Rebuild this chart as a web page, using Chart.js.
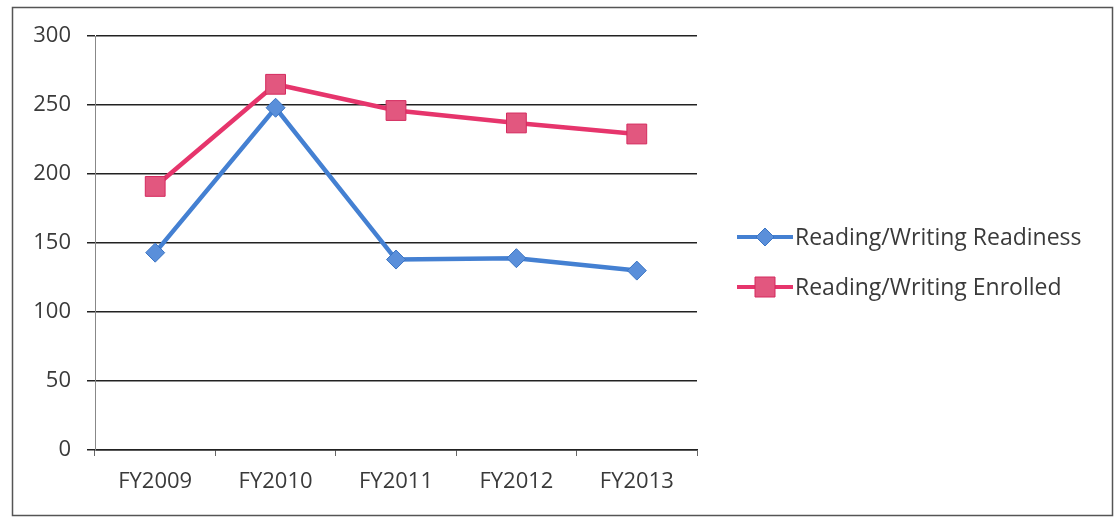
<!DOCTYPE html>
<html lang="en">
<head>
    <meta charset="UTF-8">
    <title>Reading/Writing Readiness vs Enrolled</title>
    <style>
        body {
            margin: 0;
            background: #fff;
        }
        #wrap {
            position: relative;
            width: 1119px;
            height: 519px;
        }
    </style>
    <script src="https://cdn.jsdelivr.net/npm/chart.js"></script>
</head>
<body>
    <div id="wrap"><canvas id="chart"></canvas></div>

    <script>
        const years = ["FY2009", "FY2010", "FY2011", "FY2012", "FY2013"];
        const readiness = [143, 248, 138, 139, 130];
        const enrolled = [191, 265, 246, 237, 229];
        const seriesNames = ["Reading/Writing Readiness", "Reading/Writing Enrolled"];

        const FONT = "'Open Sans', sans-serif";
        const TEXT = "#3a3a3a";

        // frame + legend drawn on the canvas
        const framePlugin = {
            id: "frame",
            beforeDraw(chart) {
                const ctx = chart.ctx;
                ctx.save();
                ctx.fillStyle = "#fff";
                ctx.fillRect(0, 0, chart.width, chart.height);
                ctx.strokeStyle = "#555";
                ctx.lineWidth = 1.5;
                ctx.strokeRect(12.5, 7.5, 1100, 508);
                ctx.restore();
            },
            afterDraw(chart) {
                const ctx = chart.ctx;
                ctx.save();
                chart.data.datasets.forEach((ds, i) => {
                    const y = 237 + i * 50;
                    ctx.strokeStyle = ds.borderColor;
                    ctx.lineWidth = 4;
                    ctx.beginPath();
                    ctx.moveTo(737, y);
                    ctx.lineTo(793, y);
                    ctx.stroke();
                    ctx.fillStyle = ds.pointBackgroundColor;
                    ctx.strokeStyle = ds.pointBorderColor;
                    ctx.lineWidth = 1;
                    ctx.beginPath();
                    if (i === 0) {
                        ctx.moveTo(765, y - 9);
                        ctx.lineTo(774, y);
                        ctx.lineTo(765, y + 9);
                        ctx.lineTo(756, y);
                        ctx.closePath();
                    } else {
                        ctx.rect(755, y - 10, 20, 20);
                    }
                    ctx.fill();
                    ctx.stroke();
                    ctx.fillStyle = TEXT;
                    ctx.font = "23px " + FONT;
                    ctx.textBaseline = "middle";
                    ctx.textAlign = "left";
                    ctx.fillText(ds.label, 795, y + 1);
                });
                ctx.restore();
            }
        };

        new Chart(document.getElementById("chart"), {
            type: "line",
            data: {
                labels: years,
                datasets: [
                    {
                        label: seriesNames[0],
                        data: readiness,
                        borderColor: "#4480d2",
                        borderWidth: 4.5,
                        pointStyle: "rectRot",
                        pointRadius: 9.5,
                        pointBackgroundColor: "#5a8fda",
                        pointBorderColor: "#3a74c4",
                        pointBorderWidth: 1,
                        tension: 0
                    },
                    {
                        label: seriesNames[1],
                        data: enrolled,
                        borderColor: "#e6356c",
                        borderWidth: 4.5,
                        pointStyle: "rect",
                        pointRadius: 14,
                        pointBackgroundColor: "#e2577f",
                        pointBorderColor: "#d42a5e",
                        pointBorderWidth: 1,
                        tension: 0
                    }
                ]
            },
            options: {
                responsive: true,
                maintainAspectRatio: false,
                animation: false,
                layout: { padding: { top: 36, right: 422, bottom: 0, left: 0 } },
                plugins: {
                    legend: { display: false },
                    tooltip: { enabled: false }
                },
                scales: {
                    x: {
                        offset: true,
                        grid: {
                            offset: true,
                            drawOnChartArea: false,
                            drawTicks: true,
                            tickLength: 6,
                            color: "#666"
                        },
                        border: { color: "#222", width: 1.5 },
                        ticks: {
                            color: TEXT,
                            font: { family: FONT, size: 22 },
                            padding: 13,
                            maxRotation: 0
                        },
                        afterFit(scale) { scale.height = 69; }
                    },
                    y: {
                        min: 0,
                        max: 300,
                        ticks: {
                            stepSize: 50,
                            color: TEXT,
                            font: { family: FONT, size: 22 },
                            padding: 16
                        },
                        grid: {
                            color: "#222",
                            lineWidth: 1.5,
                            tickLength: 8
                        },
                        border: { color: "#888", width: 1 },
                        afterFit(scale) { scale.width = 95; }
                    }
                }
            },
            plugins: [framePlugin]
        });
    </script>
</body>
</html>
